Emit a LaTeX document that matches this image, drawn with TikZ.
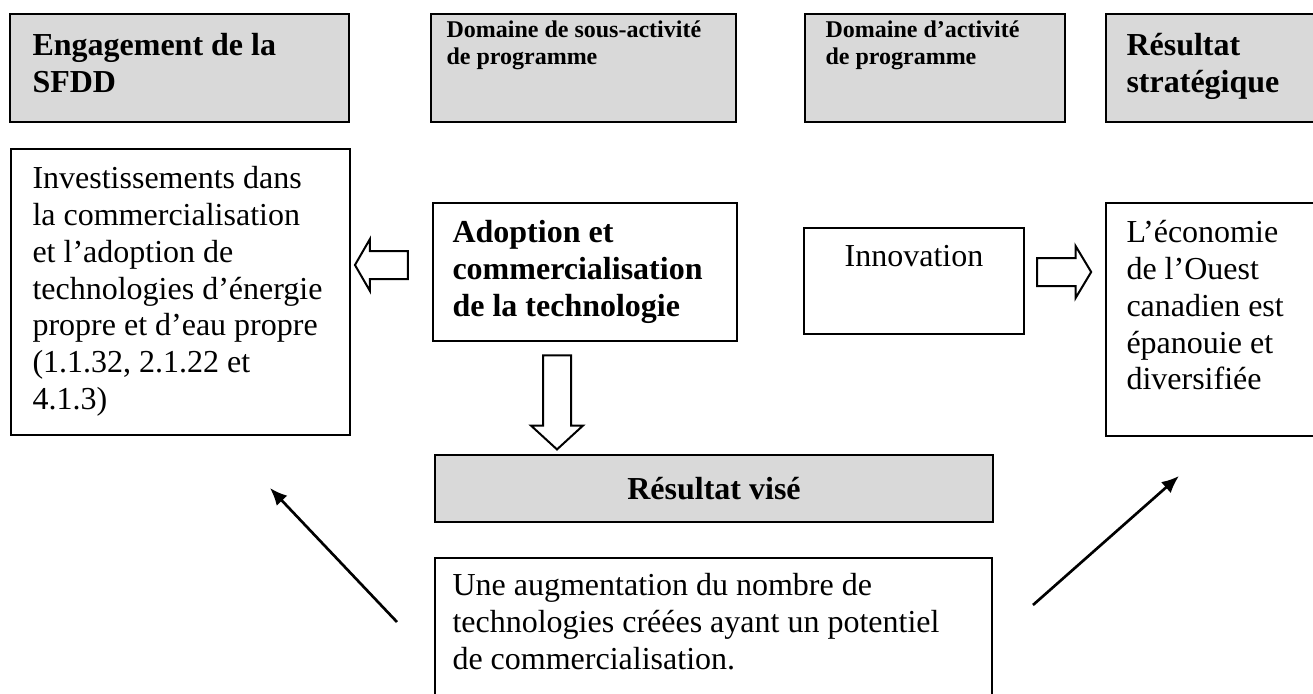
\documentclass[tikz,border=0pt]{standalone}
\usepackage{fontspec}
\setmainfont{Liberation Serif}
\usetikzlibrary{arrows.meta,shapes.arrows}
\newcommand{\pxu}{0.375pt}

\begin{document}
\begin{tikzpicture}[x=0.375pt,y=-0.375pt,
    cadre/.style={draw,line width=0.75pt,anchor=north west,inner sep=0pt},
    gris/.style={cadre,fill=black!15},
    txt/.style={anchor=north west,inner sep=0pt,align=left,font=\fontsize{12}{13.8}\selectfont},
    txtb/.style={txt,font=\fontsize{12}{13.8}\selectfont\bfseries},
    txtp/.style={txt,font=\fontsize{9}{10.35}\selectfont\bfseries},
    creux/.style={single arrow,draw,line width=0.75pt,inner xsep=0pt,inner ysep=13*\pxu,
      minimum width=50*\pxu,single arrow head extend=12*\pxu},
    fleche/.style={line width=1pt,-{Latex[length=6.5pt,width=5.5pt]}}]
  \useasboundingbox (0,0) rectangle (1313,694);
  % en-tetes
  \node[gris,minimum width=339*\pxu,minimum height=108*\pxu] (sfdd) at (9,13) {};
  \node[gris,minimum width=305*\pxu,minimum height=108*\pxu] (sousact) at (430,13) {};
  \node[gris,minimum width=260*\pxu,minimum height=108*\pxu] (activ) at (804,13) {};
  \node[gris,minimum width=215*\pxu,minimum height=108*\pxu] (strat) at (1105,13) {};
  \node[txtb] (sfddtxt) at ([shift={(23,20)}]sfdd.north west) {Engagement de la\\SFDD};
  \node[txtp] (sousacttxt) at ([shift={(16,7)}]sousact.north west) {Domaine de sous-activité\\de programme};
  \node[txtp] (activtxt) at ([shift={(21,7)}]activ.north west) {Domaine d’activité\\de programme};
  \node[txtb] (strattxt) at ([shift={(21,20)}]strat.north west) {Résultat\\stratégique};
  % rangee du milieu
  \node[cadre,minimum width=339*\pxu,minimum height=286*\pxu] (invest) at (10,148) {};
  \node[cadre,minimum width=304*\pxu,minimum height=138*\pxu] (adopt) at (432,202) {};
  \node[cadre,minimum width=220*\pxu,minimum height=106*\pxu] (innov) at (803,227) {};
  \node[cadre,minimum width=215*\pxu,minimum height=233*\pxu] (econ) at (1105,202) {};
  \node[txt] (investtxt) at ([shift={(22,18)}]invest.north west) {Investissements dans\\la commercialisation\\et l’adoption de\\technologies d’énergie\\propre et d’eau propre\\(1.1.32, 2.1.22 et\\4.1.3)};
  \node[txtb] (adopttxt) at ([shift={(20,18)}]adopt.north west) {Adoption et\\commercialisation\\de la technologie};
  \node[txt,anchor=north] (innovtxt) at ([shift={(0,18)}]innov.north) {Innovation};
  \node[txt] (econtxt) at ([shift={(21,18)}]econ.north west) {L’économie\\de l’Ouest\\canadien est\\épanouie et\\diversifiée};
  % fleches creuses
  \node[creux,minimum height=53*\pxu,single arrow tip angle=120,rotate=180] (larr) at (385.5,265) {};
  \node[creux,minimum height=94*\pxu,single arrow tip angle=95,rotate=270] (darr) at (557,396) {};
  \node[creux,minimum height=54*\pxu,single arrow tip angle=118] (rarr) at (1060,272) {};
  % bas
  \node[gris,minimum width=558*\pxu,minimum height=67*\pxu] (vise) at (434,454) {};
  \node[txtb,anchor=center] (visetxt) at (vise.center) {Résultat visé};
  \node[cadre,minimum width=557*\pxu,minimum height=150*\pxu] (augm) at (434,557) {};
  \node[txt] (augmtxt) at ([shift={(18,16)}]augm.north west) {Une augmentation du nombre de\\technologies créées ayant un potentiel\\de commercialisation.};
  % fleches obliques
  \coordinate (lq1) at (397,622);
  \coordinate (lq2) at (270,488);
  \coordinate (rq1) at (1033,605);
  \coordinate (rq2) at (1179,476);
  \draw[fleche] (lq1) -- (lq2);
  \draw[fleche] (rq1) -- (rq2);
\end{tikzpicture}
\end{document}
